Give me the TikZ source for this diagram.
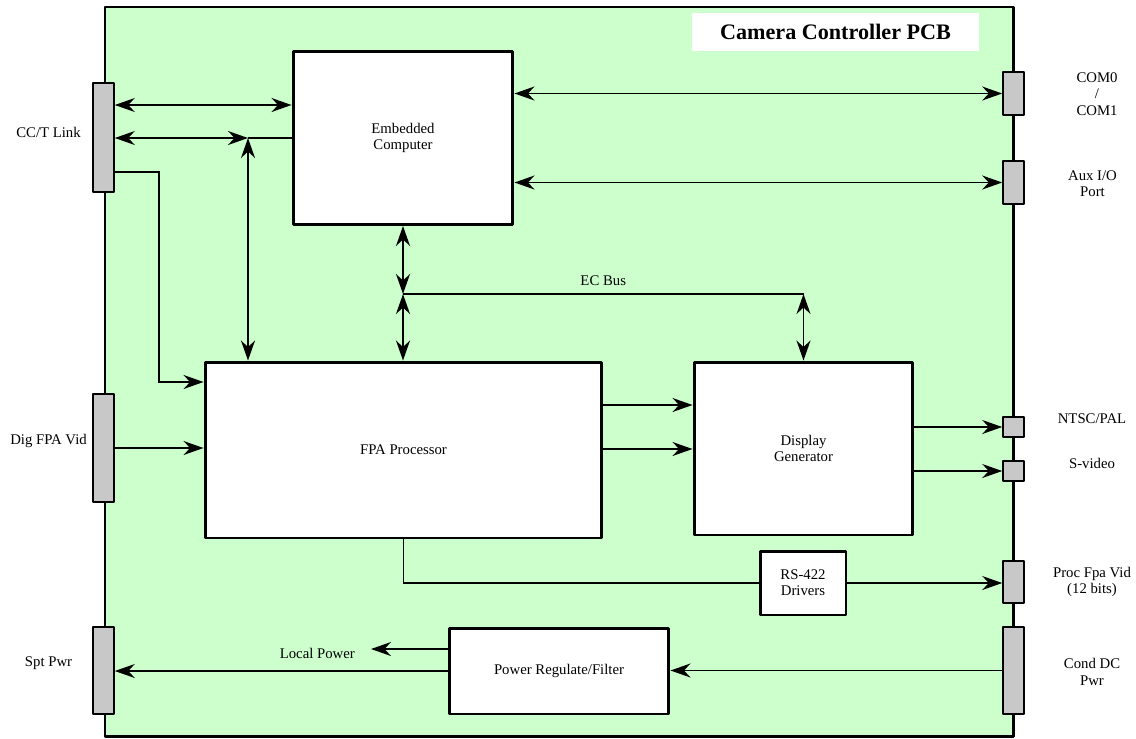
\documentclass[tikz,border=0pt]{standalone}
\usepackage{fontspec}
\setmainfont{Liberation Serif}
\usetikzlibrary{arrows.meta}
\definecolor{pcbgreen}{RGB}{204,255,204}
\definecolor{portgray}{RGB}{200,200,200}

\begin{document}
\begin{tikzpicture}[x=0.02cm,y=-0.02cm,
  font=\fontsize{8.4}{9.2}\selectfont,
  >={Stealth[length=4mm,width=2.8mm,inset=1.3mm]},
  blk/.style={draw,fill=white,line width=1.7pt,line join=round,align=center,inner sep=0pt},
  port/.style={draw,fill=portgray,line width=0.9pt,line join=round,minimum width=0.42cm,inner sep=0pt},
  lbl/.style={align=center},
  wire/.style={line width=0.95pt}]
\useasboundingbox (0,0) rectangle (1136,738);
% board
\draw[fill=pcbgreen,line width=1.7pt,line join=round] (105,7) rectangle (1013,736);
\node[fill=white,minimum width=5.74cm,minimum height=0.76cm,font=\fontsize{12.6}{14}\selectfont\bfseries] (title) at (835.5,32) {Camera Controller PCB};
% blocks
\node[blk,minimum width=4.4cm,minimum height=3.46cm] (ec) at (403,138) {Embedded\\Computer};
\node[blk,minimum width=7.94cm,minimum height=3.52cm] (fpa) at (403.5,450) {FPA Processor};
\node[blk,minimum width=4.38cm,minimum height=3.46cm] (dg) at (803.5,448.5) {Display\\Generator};
\node[blk,minimum width=1.72cm,minimum height=1.28cm] (rs) at (803,583) {RS-422\\Drivers};
\node[blk,minimum width=4.4cm,minimum height=1.72cm] (pwr) at (559,671) {Power Regulate/Filter};
% edge connectors
\node[port,minimum height=2.18cm] (cct) at (103.5,137.5) {};
\node[port,minimum height=2.16cm] (dig) at (103.5,448) {};
\node[port,minimum height=1.74cm] (spt) at (103.5,670.5) {};
\node[port,minimum height=0.86cm] (com) at (1013.5,93.5) {};
\node[port,minimum height=0.86cm] (aux) at (1013.5,182.5) {};
\node[port,minimum height=0.4cm] (ntsc) at (1013.5,427) {};
\node[port,minimum height=0.4cm] (svid) at (1013.5,471) {};
\node[port,minimum height=0.84cm] (proc) at (1013.5,582) {};
\node[port,minimum height=1.74cm] (cond) at (1013.5,670.5) {};
% connector labels
\node[lbl] (cctl) at (48.5,132) {CC/T Link};
\node[lbl] (digl) at (48.5,441) {Dig FPA Vid};
\node[lbl] (sptl) at (48.5,663) {Spt Pwr};
\node[lbl] (coml) at (1097,94) {COM0\\/\\COM1};
\node[lbl] (auxl) at (1092.5,184) {Aux I/O\\Port};
\node[lbl] (ntscl) at (1092,419) {NTSC/PAL};
\node[lbl] (svidl) at (1092,463) {S-video};
\node[lbl] (procl) at (1092,582) {Proc Fpa Vid\\(12 bits)};
\node[lbl] (condl) at (1092,672) {Cond DC\\Pwr};
% signals
\coordinate (jn) at (248,138);
\coordinate (bus) at (403,294);
\coordinate (lp) at (371,649);
\draw[wire,<->] (cct.east |- 0,105) -- (ec.west |- 0,105);
\draw[wire,<->] (cct.east |- jn) -- (jn);
\draw[wire] (jn) -- (ec.west);
\draw[wire,<->] (jn) -- (jn |- fpa.north);
\draw[wire,->] (cct.east |- 0,172) -| (159,382) -- (fpa.west |- 0,382);
\draw[wire,->] (dig.east) -- (fpa.west |- dig.east);
\draw[wire,<->] (ec.east |- com) -- (com.west);
\draw[wire,<->] (ec.east |- aux) -- (aux.west);
\draw[wire,<->] (ec.south) -- (bus);
\draw[wire,<->] (bus) -- (bus |- fpa.north);
\draw[wire] (bus) -- (dg.north |- bus) node[midway,above=1pt] {EC Bus};
\draw[wire,<->] (dg.north |- bus) -- (dg.north);
\draw[wire,->] (fpa.east |- 0,405) -- (dg.west |- 0,405);
\draw[wire,->] (fpa.east |- 0,449) -- (dg.west |- 0,449);
\draw[wire,->] (dg.east |- ntsc) -- (ntsc.west);
\draw[wire,->] (dg.east |- svid) -- (svid.west);
\draw[wire] (fpa.south) |- (rs.west);
\draw[wire,->] (rs.east) -- (proc.west |- rs.east);
\draw[wire,->] (cond.west) -- (pwr.east |- cond.west);
\draw[wire,->] (pwr.west) -- (spt.east |- pwr.west);
\draw[wire,->] (pwr.west |- lp) -- (lp);
\node[left=2mm,yshift=-0.8mm] (lpl) at (lp) {Local Power};
\end{tikzpicture}
\end{document}
